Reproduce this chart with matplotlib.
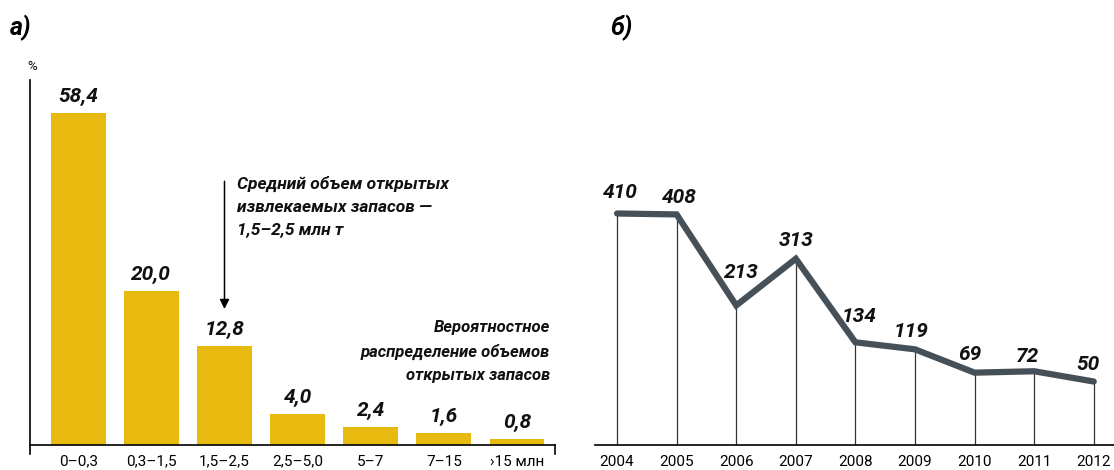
import numpy as np
import matplotlib
matplotlib.use('Agg')
import matplotlib.pyplot as plt

plt.rcParams['font.family'] = ['Roboto', 'DejaVu Sans']

# data: panel a
categories = ['0–0,3', '0,3–1,5', '1,5–2,5', '2,5–5,0', '5–7', '7–15', '›15 млн']
shares = [58.4, 20.0, 12.8, 4.0, 2.4, 1.6, 0.8]
share_labels = ['58,4', '20,0', '12,8', '4,0', '2,4', '1,6', '0,8']

# data: panel b
years = ['2004', '2005', '2006', '2007', '2008', '2009', '2010', '2011', '2012']
counts = [410, 408, 213, 313, 134, 119, 69, 72, 50]

BAR_COLOR = '#E8B90E'
LINE_COLOR = '#465058'

fig = plt.figure(figsize=(11.14, 4.70), dpi=100)

# --- panel a -------------------------------------------------------------
ax1 = fig.add_axes([30 / 1114, 25 / 470, 525 / 1114, 365 / 470])

# tall first bar is visually compressed in the original
def fwd(v):
    v = np.asarray(v, dtype=float)
    return np.where(v <= 25, v, 25 + (v - 25) * 0.542)

def inv(v):
    v = np.asarray(v, dtype=float)
    return np.where(v <= 25, v, 25 + (v - 25) / 0.542)

ax1.set_yscale('function', functions=(fwd, inv))
x1 = np.arange(len(categories))
ax1.bar(x1, shares, width=0.75, color=BAR_COLOR)
ax1.set_xlim(-0.66, 6.52)
ax1.set_ylim(0, float(inv(47.4)))

for xi, v, lab in zip(x1, shares, share_labels):
    ax1.annotate(lab, (xi, v), xytext=(0, 5), textcoords='offset points',
                 ha='center', va='bottom', fontsize=15, fontweight='bold',
                 style='italic', color='#111111')

for s in ['top', 'right']:
    ax1.spines[s].set_visible(False)
ax1.spines['left'].set_linewidth(1.2)
ax1.spines['bottom'].set_linewidth(1.2)
ax1.set_yticks([])
ax1.yaxis.set_minor_locator(matplotlib.ticker.NullLocator())
ax1.set_xticks(x1)
ax1.set_xticklabels(categories, fontsize=11)
ax1.tick_params(axis='x', length=0, pad=7)
# small end ticks below the axis
for xe in [-0.66, 6.52]:
    ax1.plot([xe, xe], [0, -0.025], transform=ax1.get_xaxis_transform(),
             color='black', lw=1.2, clip_on=False)

ax1.annotate('', xy=(2, 17.3), xytext=(2, float(inv(34.6))),
             arrowprops=dict(arrowstyle='-|>', color='black', lw=1.1,
                             mutation_scale=14))
fig.text(237 / 1114, 1 - 176 / 470,
         'Средний объем открытых\nизвлекаемых запасов —\n1,5–2,5 млн т',
         ha='left', va='top', fontsize=12.5, fontweight='bold', style='italic',
         linespacing=1.62, color='#111111')
fig.text(550 / 1114, 1 - 320 / 470,
         'Вероятностное\nраспределение объемов\nоткрытых запасов',
         ha='right', va='top', fontsize=12, fontweight='bold', style='italic',
         linespacing=1.68, color='#111111')

fig.text(32 / 1114, 1 - 67 / 470, '%', ha='center', va='center', fontsize=9.5)
fig.text(10 / 1114, 1 - 28 / 470, 'а)', ha='left', va='center', fontsize=18,
         fontweight='bold', style='italic')
fig.text(610 / 1114, 1 - 28 / 470, 'б)', ha='left', va='center', fontsize=18,
         fontweight='bold', style='italic')

# --- panel b -------------------------------------------------------------
ax2 = fig.add_axes([595 / 1114, 25 / 470, 519 / 1114, 365 / 470])
x2 = np.arange(len(years))
ymin = -86
ax2.set_xlim(-0.37, 8.34)
ax2.set_ylim(ymin, 696)
ax2.vlines(x2, ymin, counts, color='#333333', lw=0.9)
ax2.plot(x2, counts, color=LINE_COLOR, lw=4.5, solid_capstyle='round',
         solid_joinstyle='miter', zorder=3)

# label placement relative to each point, in pixels
label_off = [(3, 21), (3, 17), (5, 33), (0, 18), (4, 26), (-4, 18),
             (-5, 18), (-7, 15), (-6, 17)]
for xi, v, (dx, dy) in zip(x2, counts, label_off):
    ax2.annotate(str(v), (xi, v), xytext=(dx, dy), textcoords='offset pixels',
                 ha='center', va='center', fontsize=15, fontweight='bold',
                 style='italic', color='#111111')

for s in ['top', 'right', 'left']:
    ax2.spines[s].set_visible(False)
ax2.spines['bottom'].set_linewidth(1.2)
ax2.set_yticks([])
ax2.set_xticks(x2)
ax2.set_xticklabels(years, fontsize=11)
ax2.tick_params(axis='x', length=0, pad=7)

fig.savefig('out.png', dpi=100)
